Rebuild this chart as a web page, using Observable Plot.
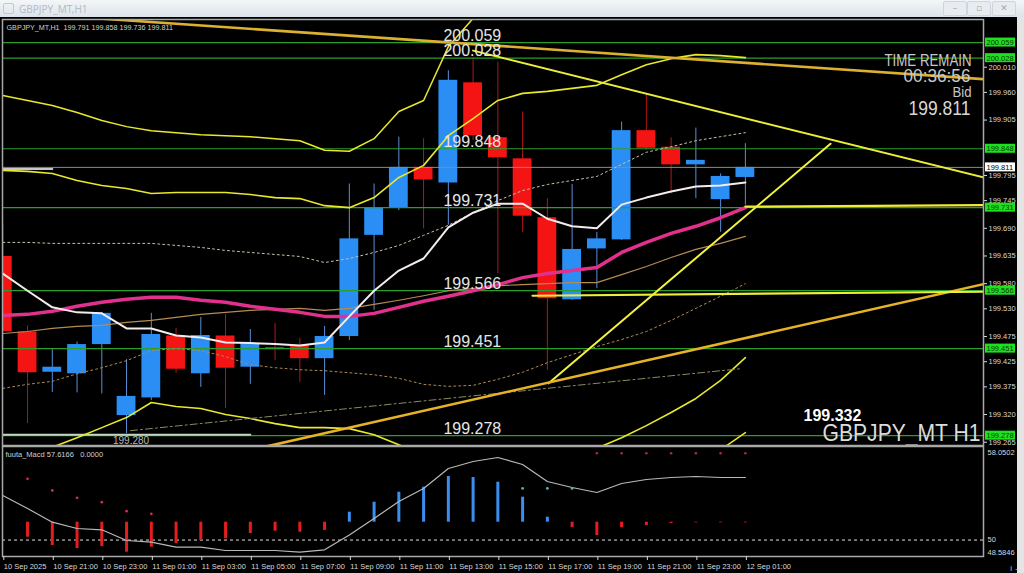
<!DOCTYPE html>
<html>
<head>
<meta charset="utf-8">
<script src="https://cdn.jsdelivr.net/npm/d3@7"></script>
<script src="https://cdn.jsdelivr.net/npm/@observablehq/plot@0.6"></script>
<style>
html,body{margin:0;padding:0;background:#000;}
body{width:1024px;height:573px;overflow:hidden;position:relative;font-family:"Liberation Sans",Arial,sans-serif;}
#titlebar{position:absolute;left:0;top:0;width:1024px;height:17px;background:linear-gradient(#f3f6f9,#dde3ea);}
#titlebar .t{position:absolute;left:19px;top:2px;font:10px "Noto Sans",sans-serif;color:#b4bcc6;}
#titlebar .ic{position:absolute;left:3px;top:3px;width:9px;height:9px;border:1px solid #c3cad2;border-radius:2px;}
.btn{position:absolute;top:1px;height:13px;width:22px;border:1px solid #cfd5dc;border-radius:2px;background:#e8ecf0;color:#a0a8b2;font:9px "DejaVu Sans",sans-serif;text-align:center;line-height:13px;}
#rightframe{position:absolute;left:1017px;top:17px;width:7px;height:556px;background:#e4e4e4;}
#main{position:absolute;left:0;top:17px;}
#macd{position:absolute;left:0;top:446px;}
</style>
</head>
<body>
<div id="titlebar"><div class="ic"></div><div class="t">GBPJPY_MT,H1</div>
<div class="btn" style="left:943px">–</div><div class="btn" style="left:967px">▫</div><div class="btn" style="left:992px">✕</div></div>
<div id="rightframe"></div>
<div id="main"></div>
<div id="macd"></div>
<script>
// ---------- DATA (hourly candles, 10 Sep 19:00 .. 12 Sep 01:00) ----------
const open  = [199.634,199.484,199.404,199.401,199.459,199.318,199.353,199.476,199.401,199.476,199.414,199.453,199.457,199.431,199.475,199.676,199.731,199.811,199.780,199.979,199.870,199.828,199.711,199.548,199.649,199.667,199.884,199.851,199.816,199.747,199.791];
const high  = [199.696,199.496,199.451,199.464,199.523,199.429,199.521,199.491,199.513,199.519,199.489,199.501,199.471,199.495,199.778,199.778,199.871,199.868,200.003,200.028,200.020,199.921,199.749,199.777,199.682,199.901,199.957,199.870,199.889,199.798,199.858];
const low   = [199.457,199.302,199.364,199.363,199.361,199.282,199.348,199.402,199.374,199.332,199.380,199.427,199.384,199.358,199.467,199.527,199.725,199.689,199.696,199.864,199.600,199.682,199.408,199.547,199.570,199.666,199.845,199.758,199.749,199.682,199.736];
const close = [199.485,199.403,199.414,199.459,199.521,199.356,199.479,199.410,199.477,199.412,199.461,199.449,199.431,199.475,199.669,199.731,199.811,199.786,199.984,199.874,199.830,199.714,199.550,199.648,199.669,199.884,199.849,199.816,199.825,199.793,199.811];

const maWhite   = [199.600,199.566,199.533,199.523,199.521,199.491,199.491,199.477,199.473,199.463,199.462,199.460,199.457,199.463,199.515,199.566,199.606,199.630,199.692,199.721,199.739,199.739,199.709,199.694,199.690,199.737,199.751,199.763,199.773,199.775,199.781];
const maMagenta = [199.517,199.519,199.525,199.535,199.543,199.549,199.553,199.553,199.547,199.543,199.535,199.529,199.523,199.515,199.515,199.521,199.533,199.545,199.555,199.566,199.578,199.592,199.600,199.606,199.612,199.642,199.662,199.680,199.694,199.711,199.731];
const maTan     = [199.481,199.485,199.491,199.495,199.497,199.503,199.507,199.513,199.519,199.523,199.527,199.529,199.531,199.527,199.531,199.539,199.547,199.556,199.566,199.570,199.576,199.578,199.580,199.582,199.582,199.598,199.614,199.632,199.648,199.660,199.674];
const bbUp1 = [199.662,199.662,199.660,199.660,199.660,199.660,199.660,199.656,199.652,199.646,199.642,199.638,199.634,199.622,199.630,199.642,199.656,199.676,199.696,199.721,199.745,199.765,199.777,199.785,199.793,199.817,199.841,199.852,199.864,199.872,199.880];
const bbLo1 = [199.372,199.380,199.386,199.401,199.413,199.427,199.447,199.451,199.447,199.435,199.419,199.413,199.409,199.407,199.403,199.399,199.392,199.380,199.376,199.378,199.390,199.404,199.423,199.439,199.455,199.469,199.485,199.507,199.531,199.555,199.580];
const bbUp2 = [199.805,199.803,199.799,199.785,199.775,199.769,199.759,199.761,199.761,199.761,199.757,199.751,199.749,199.735,199.731,199.751,199.791,199.815,199.874,199.908,199.944,199.958,199.962,199.968,199.974,199.995,200.015,200.027,200.035,200.033,200.029];
const bbLo2 = [199.229,199.239,199.255,199.274,199.294,199.314,199.344,199.336,199.332,199.320,199.312,199.302,199.294,199.294,199.292,199.280,199.260,199.239,199.217,199.209,199.205,199.209,199.219,199.233,199.253,199.274,199.298,199.324,199.352,199.388,199.433];
const bbUp3 = [199.954,199.944,199.934,199.920,199.904,199.892,199.884,199.880,199.876,199.874,199.872,199.868,199.864,199.845,199.843,199.868,199.922,199.944,200.051,200.107,200.142,200.152,200.158,200.166,200.172,200.198,200.222,200.242,200.252,200.232,200.182];
const bbLo3 = [199.080,199.094,199.115,199.149,199.181,199.205,199.221,199.225,199.217,199.211,199.197,199.189,199.183,199.181,199.185,199.173,199.145,199.141,199.058,199.026,199.014,199.030,199.042,199.046,199.052,199.078,199.102,199.129,199.169,199.250,199.284];

// chart objects: [candle index, price]
const trendGoldTop   = [[0, 200.120], [39.7, 199.986]];
const trendYellowTop = [[19, 200.043], [39.7, 199.790]];
const trendRising    = [[22.05, 199.382], [33.44, 199.858]];
const trendGoldLow   = [[10.5, 199.255], [39.7, 199.580]];
const hLineYellow1   = [[21.4, 199.556], [39.7, 199.564]];
const hLineYellow2   = [[30, 199.733], [39.7, 199.736]];
const dashOlive      = [[5.16, 199.288], [29.8, 199.411]];
const segGrayTop     = [[-0.1, 199.808], [2.0, 199.808]];
const segGrayLow     = [[-0.1, 199.280], [10.0, 199.280]];
const grayLowLabelAt = 4.45;

const levels = [200.059, 200.028, 199.848, 199.731, 199.566, 199.451, 199.278];
const levelLabelAt = 17.8;
const bid = 199.811;
const priceTicks = [200.010,199.960,199.905,199.795,199.745,199.690,199.635,199.580,199.530,199.475,199.425,199.375,199.320,199.265];

// MACD panel
const macdLine = [53.834,52.715,51.536,50.994,50.882,49.961,49.815,49.385,49.385,49.101,49.101,49.101,48.955,49.161,50.430,51.854,53.317,54.436,56.157,56.759,57.103,56.501,55.038,54.522,54.092,54.866,55.210,55.382,55.468,55.382,55.382];
const macdHist = [null,50.245,49.531,49.273,49.445,48.955,49.385,49.703,49.961,50.108,50.564,50.762,50.676,50.830,52.396,53.257,54.117,54.548,55.468,55.382,54.978,53.687,51.966,51.080,50.391,51.054,51.252,51.424,51.480,51.480,51.480];
const histBase = 51.536;
const dotRedIdx = [1,2,3,4,5,6], dotRedVal = [55.271,54.264,53.636,53.257,52.483,52.259];
const dotCyanIdx = [21,22,23], dotCyanVal = [54.44,54.44,54.44];
const dotTopIdx = [24,25,26,27,28,29,30], dotTopVal = [57.47,57.47,57.47,57.47,57.47,57.47,57.47];
const macdTicks = [58.0502, 50, 48.5846];

const tickIdx = [0,2,4,6,8,10,12,14,16,18,20,22,24,26,28,30];
const tickLabels = ["10 Sep 2025","10 Sep 21:00","10 Sep 23:00","11 Sep 01:00","11 Sep 03:00","11 Sep 05:00","11 Sep 07:00","11 Sep 09:00","11 Sep 11:00","11 Sep 13:00","11 Sep 15:00","11 Sep 17:00","11 Sep 19:00","11 Sep 21:00","11 Sep 23:00","12 Sep 01:00"];

// ---------- BUILD ----------
const xDomain = [-0.012, 39.62];
const cand = open.map((o, i) => ({i, o, h: high[i], l: low[i], c: close[i], up: close[i] >= o}));
const ser = arr => arr.map((v, i) => ({i, v})).filter(d => d.v != null);
const L = (arr, opts) => Plot.line(ser(arr), {x: "i", y: "v", clip: true, ...opts});
const P = (pairs, opts) => Plot.line(pairs, {x: d => d[0], y: d => d[1], clip: true, ...opts});

function rightBoxes(vals, fill, textFill) {
  return (index, scales, values, dims) => {
    const g = d3.create("svg:g");
    const x0 = dims.width - dims.marginRight + 2;
    for (const v of vals) {
      const y = scales.y(v);
      g.append("rect").attr("x", x0).attr("y", y - 4.5).attr("width", 30).attr("height", 9).attr("fill", fill);
      g.append("text").attr("x", x0 + 1.5).attr("y", y + 3).attr("fill", textFill)
        .attr("text-anchor", "start").attr("font-size", 7.5)
        .attr("font-family", "Liberation Sans, Arial").text(v.toFixed(3));
    }
    return g.node();
  };
}

const main = Plot.plot({
  width: 1024, height: 429,
  marginLeft: 2, marginRight: 41, marginTop: 2, marginBottom: 1,
  style: {background: "transparent", color: "#d8d8d8", fontFamily: "Liberation Sans, Arial", fontSize: "7.5px", overflow: "visible"},
  x: {domain: xDomain, axis: null},
  y: {domain: [199.2585, 200.1048], axis: null},
  marks: [
    // candles
    Plot.ruleX(cand, {x: "i", y1: "l", y2: "h", stroke: d => d.up ? "#5a8fd8" : "#b01818", strokeWidth: 1, clip: true}),
    Plot.rect(cand, {x1: d => d.i - 0.38, x2: d => d.i + 0.38, y1: "o", y2: "c", fill: d => d.up ? "#2a8ef5" : "#f41414", clip: true}),
    // horizontal levels
    Plot.ruleY(levels, {stroke: "#2a9e2a", strokeWidth: 1.2}),
    Plot.ruleY([bid], {stroke: "#8a8a8a", strokeWidth: 1}),
    P(segGrayTop, {stroke: "#c8c8c8", strokeWidth: 2}),
    P(segGrayLow, {stroke: "#c4d4c4", strokeWidth: 2}),
    // bands
    L(bbUp3, {stroke: "#e8e82c", strokeWidth: 1.5}),
    L(bbLo3, {stroke: "#e8e82c", strokeWidth: 1.5}),
    L(bbUp2, {stroke: "#e8e82c", strokeWidth: 1.6}),
    L(bbLo2, {stroke: "#e8e82c", strokeWidth: 1.6}),
    L(bbUp1, {stroke: "#c9c0a8", strokeWidth: 1, strokeDasharray: "2,3"}),
    L(bbLo1, {stroke: "#b08a50", strokeWidth: 1, strokeDasharray: "2,3"}),
    P(dashOlive, {stroke: "#8c8a62", strokeWidth: 1, strokeDasharray: "7,3,2,3"}),
    // moving averages
    L(maTan, {stroke: "#b48c52", strokeWidth: 1.2}),
    L(maMagenta, {stroke: "#e2308e", strokeWidth: 3.5}),
    L(maWhite, {stroke: "#f4ecec", strokeWidth: 2}),
    // trend lines
    P(trendGoldTop, {stroke: "#dcb030", strokeWidth: 2.6}),
    P(trendYellowTop, {stroke: "#ecec3a", strokeWidth: 2}),
    P(trendRising, {stroke: "#f2f23e", strokeWidth: 2}),
    P(trendGoldLow, {stroke: "#e6b226", strokeWidth: 2.6}),
    P(hLineYellow1, {stroke: "#eeee38", strokeWidth: 2.2}),
    P(hLineYellow2, {stroke: "#eeee38", strokeWidth: 2.2}),
    // texts
    Plot.text(levels, {x: () => levelLabelAt, y: d => d, text: d => d.toFixed(3), textAnchor: "start", lineAnchor: "bottom", dy: -2, fontSize: 16, fill: "#e6e6e6", clip: true}),
    Plot.text([199.280], {x: () => grayLowLabelAt, y: d => d, text: d => d.toFixed(3), textAnchor: "start", lineAnchor: "top", dy: 2, fontSize: 10, fill: "#b8b8b8", clip: true}),
    Plot.text(["GBPJPY_MT,H1  199.791 199.858 199.736 199.811"], {frameAnchor: "top-left", dx: 4, dy: 10.5, lineAnchor: "bottom", textAnchor: "start", fontSize: 7.2, fill: "#d0d0d0"}),
    Plot.text(["TIME REMAIN"], {frameAnchor: "top-right", dx: -12, dy: 46, lineAnchor: "bottom", textAnchor: "end", fontSize: 16, fill: "#c8c8c8"}),
    Plot.text(["00:36:56"], {frameAnchor: "top-right", dx: -13, dy: 62, lineAnchor: "bottom", textAnchor: "end", fontSize: 19, fill: "#c8c8c8"}),
    Plot.text(["Bid"], {frameAnchor: "top-right", dx: -12, dy: 77, lineAnchor: "bottom", textAnchor: "end", fontSize: 15, fill: "#c8c8c8"}),
    Plot.text(["199.811"], {frameAnchor: "top-right", dx: -13, dy: 95, lineAnchor: "bottom", textAnchor: "end", fontSize: 20, fill: "#d8d8d8"}),
    Plot.text(["199.332"], {frameAnchor: "bottom-right", dx: -180, dy: -25, lineAnchor: "bottom", textAnchor: "start", fontSize: 16, fontWeight: "bold", fill: "#ffffff"}),
    Plot.text(["GBPJPY_MT H1"], {frameAnchor: "bottom-right", dx: -3, dy: -5, lineAnchor: "bottom", textAnchor: "end", fontSize: 24, fill: "#dcdcdc"}),
    Plot.frame({stroke: "#a8a8a8", strokeWidth: 1.5}),
    Plot.axisY({anchor: "right", ticks: priceTicks, tickFormat: d3.format(".3f"), tickSize: 3, tickPadding: 2, fontSize: 7.5, color: "#d8d8d8"}),
    rightBoxes(levels, "#1fe01f", "#0a3a0a"),
    rightBoxes([bid], "#ffffff", "#000000")
  ]
});
document.getElementById("main").appendChild(main);

// condense the MT4 on-screen labels (narrow font look)
const fitText = (svg, str, len) => d3.select(svg).selectAll("text")
  .filter(function () { return this.textContent === str && this.parentNode.getAttribute("aria-label") === "text"; })
  .attr("textLength", len).attr("lengthAdjust", "spacingAndGlyphs");
fitText(main, "TIME REMAIN", 87);
fitText(main, "00:36:56", 67);
fitText(main, "Bid", 19);
fitText(main, "199.811", 62);
fitText(main, "GBPJPY_MT H1", 158);

const hist = macdHist.map((v, i) => ({i, v})).filter(d => d.v != null);
const macd = Plot.plot({
  width: 1024, height: 127,
  marginLeft: 2, marginRight: 41, marginTop: 0, marginBottom: 17,
  style: {background: "transparent", color: "#d8d8d8", fontFamily: "Liberation Sans, Arial", fontSize: "7.5px", overflow: "visible"},
  x: {domain: xDomain, axis: null},
  y: {domain: [48.5846, 58.0502], axis: null},
  marks: [
    Plot.ruleY([50], {stroke: "#e0e0e0", strokeDasharray: "3,3", strokeWidth: 1}),
    Plot.ruleX(hist, {x: "i", y1: () => histBase, y2: "v", stroke: d => d.v >= histBase ? "#3a8ef0" : "#e41e1e", strokeWidth: 3, clip: true}),
    L(macdLine, {stroke: "#b8b8b8", strokeWidth: 1.2}),
    Plot.dot(dotRedIdx, {x: d => d, y: (d, k) => dotRedVal[k], r: 1.4, fill: "#c8304a"}),
    Plot.dot(dotCyanIdx, {x: d => d, y: (d, k) => dotCyanVal[k], r: 1.4, fill: "#48b8b8"}),
    Plot.dot(dotTopIdx, {x: d => d, y: (d, k) => dotTopVal[k], r: 1.3, fill: "#a03040"}),
    Plot.text(["fuuta_Macd 57.6166   0.0000"], {frameAnchor: "top-left", dx: 3, dy: 10, lineAnchor: "bottom", textAnchor: "start", fontSize: 7.5, fill: "#d0d0d0"}),
    Plot.frame({stroke: "#a8a8a8", strokeWidth: 1.5}),
    Plot.text([macdTicks[0]], {y: d => d, frameAnchor: "right", dx: 4, dy: 6, text: d => d.toFixed(4), textAnchor: "start", fontSize: 7.5, fill: "#d8d8d8"}),
    Plot.text([macdTicks[1]], {y: d => d, frameAnchor: "right", dx: 4, dy: 0, text: d => String(d), textAnchor: "start", fontSize: 7.5, fill: "#d8d8d8"}),
    Plot.text([macdTicks[2]], {y: d => d, frameAnchor: "right", dx: 4, dy: -4, text: d => d.toFixed(4), textAnchor: "start", fontSize: 7.5, fill: "#d8d8d8"}),
    Plot.axisX({anchor: "bottom", ticks: tickIdx, tickFormat: d => tickLabels[tickIdx.indexOf(d)], tickSize: 4, tickPadding: 3, textAnchor: "start", dx: 1, fontSize: 7.5, color: "#d8d8d8"})
  ]
});
document.getElementById("macd").appendChild(macd);
</script>
</body>
</html>
